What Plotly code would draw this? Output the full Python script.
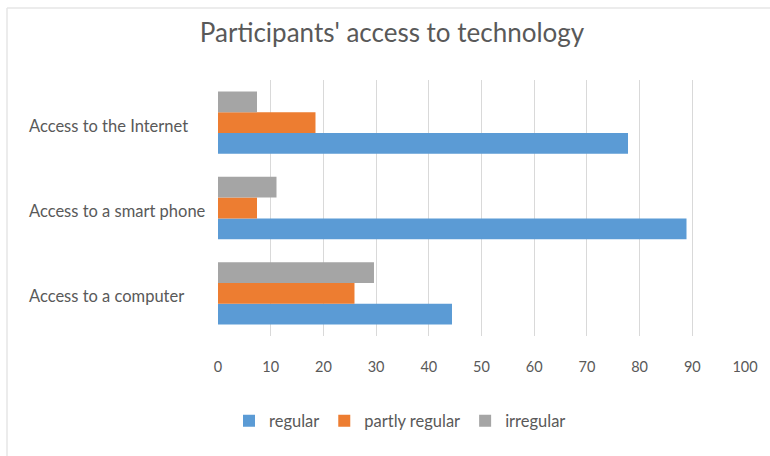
import plotly.graph_objects as go

categories = ["Access to a computer", "Access to a smart phone", "Access to the Internet"]
series_names = ["regular", "partly regular", "irregular"]
regular = [44.4, 88.9, 77.8]
partly_regular = [25.9, 7.4, 18.5]
irregular = [29.6, 11.1, 7.4]
colors = ["#5B9BD5", "#ED7D31", "#A5A5A5"]
x_ticks = [0, 10, 20, 30, 40, 50, 60, 70, 80, 90, 100]

FONT = "Lato, Calibri, 'Open Sans', sans-serif"
TXT = "#595959"

fig = go.Figure()
for name, vals, col in zip(series_names, [regular, partly_regular, irregular], colors):
    fig.add_trace(go.Bar(
        y=categories, x=vals, name=name, orientation="h",
        marker=dict(color=col, line=dict(width=0)),
        hoverinfo="x+name",
    ))

for c in categories:
    fig.add_annotation(
        x=-0.3624, xref="paper", y=c, yref="y", text=c, showarrow=False,
        xanchor="left", yanchor="middle", yshift=-3,
        font=dict(family=FONT, size=16.5, color=TXT),
    )

W, H = 770, 456
L, R, T, B = 218, 25, 80, 120
pw, ph = W - L - R, H - T - B

def px_x(p):
    return (p - L) / pw

def px_y(p):
    return (H - B - p) / ph

fig.add_shape(type="line", xref="paper", yref="paper",
              x0=px_x(7), x1=px_x(770), y0=px_y(8), y1=px_y(8),
              line=dict(color="#E6E6E6", width=1.5))
fig.add_shape(type="line", xref="paper", yref="paper",
              x0=px_x(7), x1=px_x(7), y0=px_y(8), y1=px_y(456),
              line=dict(color="#E6E6E6", width=1.5))

fig.update_layout(
    width=W, height=H,
    margin=dict(l=L, r=R, t=T, b=B),
    paper_bgcolor="white", plot_bgcolor="white",
    barmode="group", bargap=0.27, bargroupgap=0,
    title=dict(text="Participants' access to technology",
               x=392 / W, xref="container", xanchor="center",
               y=1 - 33 / H, yref="container", yanchor="middle",
               font=dict(family=FONT, size=26, color=TXT)),
    xaxis=dict(range=[0, 100], tickvals=x_ticks, showgrid=True, gridcolor="#D9D9D9",
               gridwidth=1, zeroline=False, showline=False, ticks="",
               tickfont=dict(family=FONT, size=14.5, color=TXT), ticklabelstandoff=20),
    yaxis=dict(type="category", categoryorder="array", categoryarray=categories,
               showticklabels=False, showgrid=False, zeroline=False, showline=False, ticks=""),
    legend=dict(orientation="h", x=px_x(400), xanchor="center", y=px_y(421), yanchor="middle",
                font=dict(family=FONT, size=16.5, color=TXT), itemwidth=30,
                traceorder="normal"),
    showlegend=True,
)

fig.write_html("out.html")
